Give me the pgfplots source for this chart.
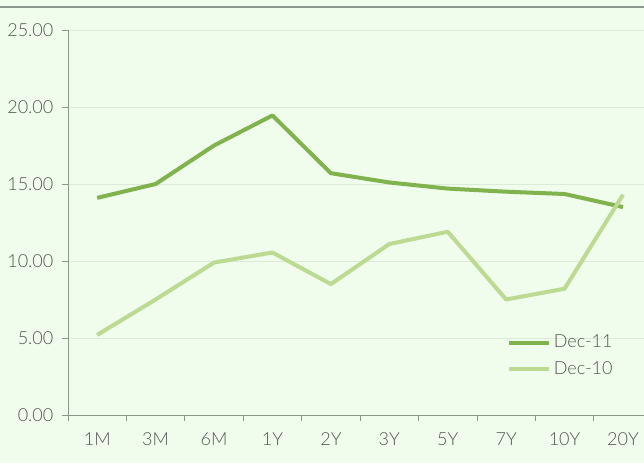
\documentclass[border=0pt]{standalone}
\usepackage{pgfplots}
\pgfplotsset{compat=1.18}
\usepackage{fontspec}
\setmainfont{Lato Light}
\definecolor{bg}{RGB}{240,252,236}
\definecolor{txt}{RGB}{85,85,85}
\definecolor{axc}{RGB}{140,150,140}
\definecolor{gridc}{RGB}{220,235,215}
\definecolor{dec11}{RGB}{128,178,78}
\definecolor{dec10}{RGB}{188,218,145}
\begin{document}
\begin{tikzpicture}
\fill[bg] (0,0) rectangle (483pt,347.25pt);
\useasboundingbox (0,0) rectangle (483pt,347.25pt);
\draw[axc, line width=1.2pt] (0,342pt) -- (483pt,342pt);
\begin{axis}[
  at={(51pt,36pt)}, anchor=south west,
  scale only axis, width=432pt, height=288.75pt,
  xmin=-0.5, xmax=9.36, ymin=0, ymax=25,
  axis x line*=bottom, axis y line*=left,
  axis line style={axc, line width=0.6pt},
  xtick={0,...,9},
  xticklabels={1M,3M,6M,1Y,2Y,3Y,5Y,7Y,10Y,20Y},
  major x tick style={draw=none},
  minor xtick={-0.5,0.5,1.5,2.5,3.5,4.5,5.5,6.5,7.5,8.5},
  minor tick length=4.5pt,
  minor x tick style={axc, line width=0.6pt},
  ytick={0,5,...,25},
  major tick length=4.5pt,
  tick align=outside,
  y tick style={axc, line width=0.6pt},
  yticklabel={\pgfmathprintnumber[fixed,fixed zerofill,precision=2]{\tick}},
  /pgf/number format/assume math mode=true,
  ymajorgrids, grid style={gridc, line width=0.6pt},
  tick label style={font=\fontsize{13.5}{16}\selectfont, text=txt},
  xticklabel style={yshift=-5pt},
  yticklabel style={xshift=-3pt},
  legend style={draw=none, fill=none, at={(0.755,0.222)}, anchor=north west,
    font=\fontsize{13.5}{16}\selectfont, text=txt, row sep=5pt},
  legend cell align=left,
  legend image code/.code={\draw[#1, line width=3pt] (0pt,0pt) -- (30pt,0pt);},
]
\addplot[dec11, line width=3pt, line join=round] coordinates {
(0,14.1) (1,15.0) (2,17.5) (3,19.45) (4,15.7) (5,15.1) (6,14.7) (7,14.5) (8,14.35) (9,13.5)};
\addlegendentry{Dec-11}
\addplot[dec10, line width=3pt, line join=round] coordinates {
(0,5.2) (1,7.5) (2,9.9) (3,10.55) (4,8.5) (5,11.1) (6,11.9) (7,7.5) (8,8.2) (9,14.3)};
\addlegendentry{Dec-10}
\end{axis}
\end{tikzpicture}
\end{document}
